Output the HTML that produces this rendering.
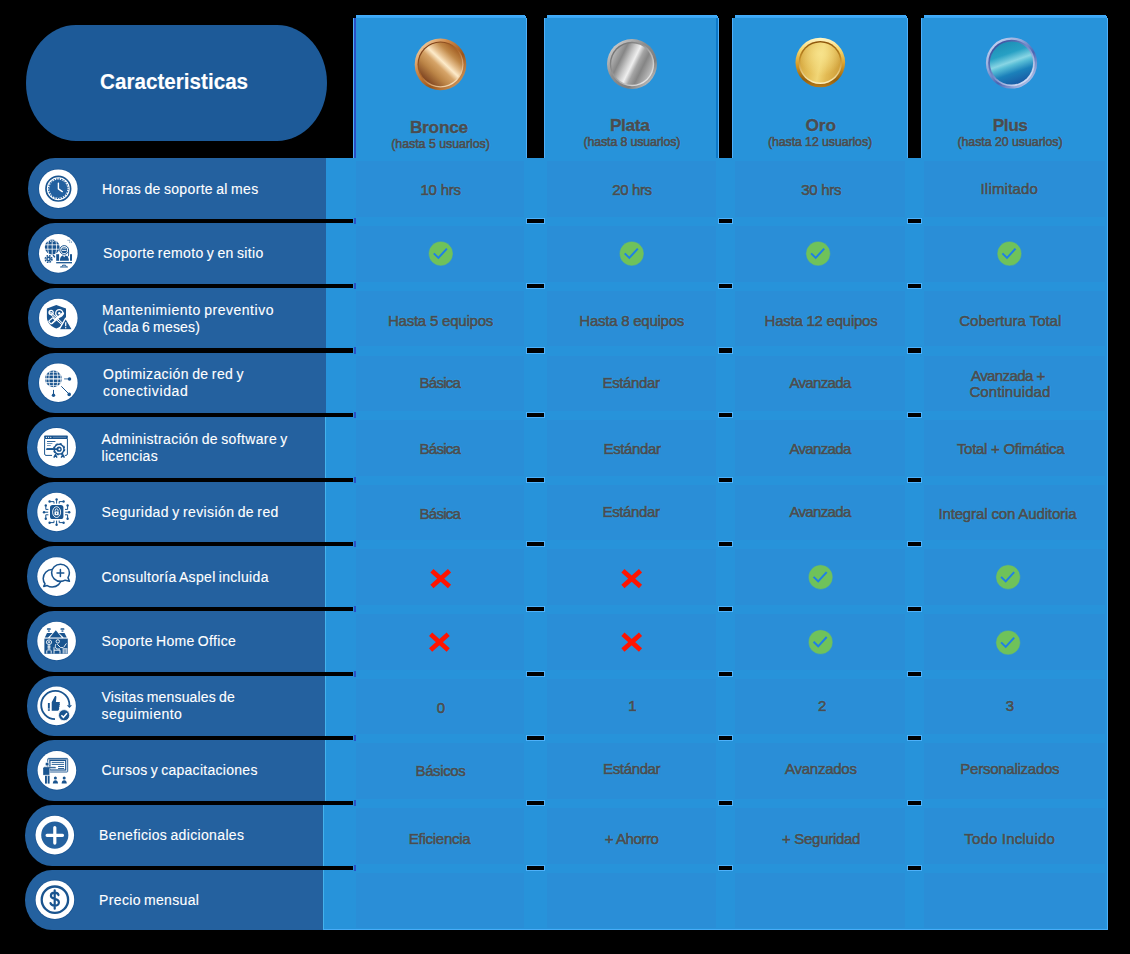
<!DOCTYPE html>
<html><head><meta charset="utf-8"><title>Planes</title>
<style>
html,body{margin:0;padding:0;background:#000;}
body{width:1130px;height:954px;position:relative;overflow:hidden;font-family:"Liberation Sans",sans-serif;}
.a{position:absolute;}
.t{position:absolute;white-space:nowrap;line-height:1;color:#4a4c50;-webkit-text-stroke:0.7px #4a4c50;text-shadow:0 0 1px #38b8ff,0 0 1px #38b8ff,0 0 1.5px #38b8ff;}
.l{position:absolute;white-space:nowrap;line-height:1;color:#fff;-webkit-text-stroke:0.12px #fff;}
.ic{position:absolute;border-radius:50%;background:#fff;box-shadow:0 0 0 1px #1c5896;}
svg{position:absolute;overflow:visible;}
</style></head><body>

<div class="a" style="left:26px;top:25px;width:301px;height:116px;border-radius:50px / 58px;background:#1d5a98"></div>
<div class="a" style="left:353px;top:18px;width:174px;height:912px;background:#2793da"></div>
<div class="a" style="left:356px;top:15px;width:169px;height:3px;background:linear-gradient(#45aefb,#38a5f3)"></div>
<div class="a" style="left:525px;top:16px;width:1px;height:2px;background:#45aefb"></div>
<div class="a" style="left:353px;top:18px;width:1px;height:140px;background:#4fb0fa"></div>
<div class="a" style="left:526px;top:18px;width:1px;height:140px;background:#4fb0fa"></div>
<div class="a" style="left:544px;top:18px;width:175px;height:912px;background:#2793da"></div>
<div class="a" style="left:547px;top:15px;width:170px;height:3px;background:linear-gradient(#45aefb,#38a5f3)"></div>
<div class="a" style="left:717px;top:16px;width:1px;height:2px;background:#45aefb"></div>
<div class="a" style="left:544px;top:18px;width:1px;height:140px;background:#4fb0fa"></div>
<div class="a" style="left:718px;top:18px;width:1px;height:140px;background:#4fb0fa"></div>
<div class="a" style="left:732px;top:18px;width:176px;height:912px;background:#2793da"></div>
<div class="a" style="left:735px;top:15px;width:171px;height:3px;background:linear-gradient(#45aefb,#38a5f3)"></div>
<div class="a" style="left:906px;top:16px;width:1px;height:2px;background:#45aefb"></div>
<div class="a" style="left:732px;top:18px;width:1px;height:140px;background:#4fb0fa"></div>
<div class="a" style="left:907px;top:18px;width:1px;height:140px;background:#4fb0fa"></div>
<div class="a" style="left:921px;top:18px;width:187px;height:912px;background:#2793da"></div>
<div class="a" style="left:924px;top:15px;width:182px;height:3px;background:linear-gradient(#45aefb,#38a5f3)"></div>
<div class="a" style="left:1106px;top:16px;width:1px;height:2px;background:#45aefb"></div>
<div class="a" style="left:921px;top:18px;width:1px;height:140px;background:#4fb0fa"></div>
<div class="a" style="left:1107px;top:18px;width:1px;height:140px;background:#4fb0fa"></div>
<div class="a" style="left:354px;top:18px;width:2px;height:140px;background:#2a4fc6"></div>
<div class="a" style="left:716px;top:18px;width:2px;height:140px;background:#0c78c8"></div>
<div class="a" style="left:326px;top:158px;width:782px;height:61px;background:#2793da"></div>
<div class="a" style="left:28px;top:158px;width:298px;height:61px;background:#24619f;border-radius:27px 0 0 27px / 30.5px 0 0 30.5px"></div>
<div class="a" style="left:356px;top:161px;width:168px;height:56px;background:#2a8ed7"></div>
<div class="a" style="left:547px;top:161px;width:169px;height:56px;background:#2a8ed7"></div>
<div class="a" style="left:735px;top:161px;width:170px;height:56px;background:#2a8ed7"></div>
<div class="a" style="left:924px;top:161px;width:181px;height:56px;background:#2a8ed7"></div>
<div class="a" style="left:326px;top:223px;width:782px;height:61px;background:#2793da"></div>
<div class="a" style="left:28px;top:223px;width:298px;height:61px;background:#24619f;border-radius:27px 0 0 27px / 30.5px 0 0 30.5px"></div>
<div class="a" style="left:356px;top:226px;width:168px;height:56px;background:#2a8ed7"></div>
<div class="a" style="left:547px;top:226px;width:169px;height:56px;background:#2a8ed7"></div>
<div class="a" style="left:735px;top:226px;width:170px;height:56px;background:#2a8ed7"></div>
<div class="a" style="left:924px;top:226px;width:181px;height:56px;background:#2a8ed7"></div>
<div class="a" style="left:326px;top:288px;width:782px;height:60px;background:#2793da"></div>
<div class="a" style="left:28px;top:288px;width:298px;height:60px;background:#24619f;border-radius:27px 0 0 27px / 30.0px 0 0 30.0px"></div>
<div class="a" style="left:356px;top:291px;width:168px;height:55px;background:#2a8ed7"></div>
<div class="a" style="left:547px;top:291px;width:169px;height:55px;background:#2a8ed7"></div>
<div class="a" style="left:735px;top:291px;width:170px;height:55px;background:#2a8ed7"></div>
<div class="a" style="left:924px;top:291px;width:181px;height:55px;background:#2a8ed7"></div>
<div class="a" style="left:326px;top:353px;width:782px;height:60px;background:#2793da"></div>
<div class="a" style="left:28px;top:353px;width:298px;height:60px;background:#24619f;border-radius:27px 0 0 27px / 30.0px 0 0 30.0px"></div>
<div class="a" style="left:356px;top:356px;width:168px;height:55px;background:#2a8ed7"></div>
<div class="a" style="left:547px;top:356px;width:169px;height:55px;background:#2a8ed7"></div>
<div class="a" style="left:735px;top:356px;width:170px;height:55px;background:#2a8ed7"></div>
<div class="a" style="left:924px;top:356px;width:181px;height:55px;background:#2a8ed7"></div>
<div class="a" style="left:325px;top:417px;width:783px;height:61px;background:#2793da"></div>
<div class="a" style="left:27px;top:417px;width:298px;height:61px;background:#24619f;border-radius:27px 0 0 27px / 30.5px 0 0 30.5px"></div>
<div class="a" style="left:356px;top:420px;width:168px;height:56px;background:#2a8ed7"></div>
<div class="a" style="left:547px;top:420px;width:169px;height:56px;background:#2a8ed7"></div>
<div class="a" style="left:735px;top:420px;width:170px;height:56px;background:#2a8ed7"></div>
<div class="a" style="left:924px;top:420px;width:181px;height:56px;background:#2a8ed7"></div>
<div class="a" style="left:325px;top:482px;width:783px;height:60px;background:#2793da"></div>
<div class="a" style="left:27px;top:482px;width:298px;height:60px;background:#24619f;border-radius:27px 0 0 27px / 30.0px 0 0 30.0px"></div>
<div class="a" style="left:356px;top:485px;width:168px;height:55px;background:#2a8ed7"></div>
<div class="a" style="left:547px;top:485px;width:169px;height:55px;background:#2a8ed7"></div>
<div class="a" style="left:735px;top:485px;width:170px;height:55px;background:#2a8ed7"></div>
<div class="a" style="left:924px;top:485px;width:181px;height:55px;background:#2a8ed7"></div>
<div class="a" style="left:325px;top:546px;width:783px;height:61px;background:#2793da"></div>
<div class="a" style="left:27px;top:546px;width:298px;height:61px;background:#24619f;border-radius:27px 0 0 27px / 30.5px 0 0 30.5px"></div>
<div class="a" style="left:356px;top:549px;width:168px;height:56px;background:#2a8ed7"></div>
<div class="a" style="left:547px;top:549px;width:169px;height:56px;background:#2a8ed7"></div>
<div class="a" style="left:735px;top:549px;width:170px;height:56px;background:#2a8ed7"></div>
<div class="a" style="left:924px;top:549px;width:181px;height:56px;background:#2a8ed7"></div>
<div class="a" style="left:325px;top:611px;width:783px;height:61px;background:#2793da"></div>
<div class="a" style="left:27px;top:611px;width:298px;height:61px;background:#24619f;border-radius:27px 0 0 27px / 30.5px 0 0 30.5px"></div>
<div class="a" style="left:356px;top:614px;width:168px;height:56px;background:#2a8ed7"></div>
<div class="a" style="left:547px;top:614px;width:169px;height:56px;background:#2a8ed7"></div>
<div class="a" style="left:735px;top:614px;width:170px;height:56px;background:#2a8ed7"></div>
<div class="a" style="left:924px;top:614px;width:181px;height:56px;background:#2a8ed7"></div>
<div class="a" style="left:325px;top:676px;width:783px;height:60px;background:#2793da"></div>
<div class="a" style="left:27px;top:676px;width:298px;height:60px;background:#24619f;border-radius:27px 0 0 27px / 30.0px 0 0 30.0px"></div>
<div class="a" style="left:356px;top:679px;width:168px;height:55px;background:#2a8ed7"></div>
<div class="a" style="left:547px;top:679px;width:169px;height:55px;background:#2a8ed7"></div>
<div class="a" style="left:735px;top:679px;width:170px;height:55px;background:#2a8ed7"></div>
<div class="a" style="left:924px;top:679px;width:181px;height:55px;background:#2a8ed7"></div>
<div class="a" style="left:325px;top:740px;width:783px;height:61px;background:#2793da"></div>
<div class="a" style="left:27px;top:740px;width:298px;height:61px;background:#24619f;border-radius:27px 0 0 27px / 30.5px 0 0 30.5px"></div>
<div class="a" style="left:356px;top:743px;width:168px;height:56px;background:#2a8ed7"></div>
<div class="a" style="left:547px;top:743px;width:169px;height:56px;background:#2a8ed7"></div>
<div class="a" style="left:735px;top:743px;width:170px;height:56px;background:#2a8ed7"></div>
<div class="a" style="left:924px;top:743px;width:181px;height:56px;background:#2a8ed7"></div>
<div class="a" style="left:323px;top:805px;width:785px;height:61px;background:#2793da"></div>
<div class="a" style="left:25px;top:805px;width:298px;height:61px;background:#24619f;border-radius:27px 0 0 27px / 30.5px 0 0 30.5px"></div>
<div class="a" style="left:356px;top:808px;width:168px;height:56px;background:#2a8ed7"></div>
<div class="a" style="left:547px;top:808px;width:169px;height:56px;background:#2a8ed7"></div>
<div class="a" style="left:735px;top:808px;width:170px;height:56px;background:#2a8ed7"></div>
<div class="a" style="left:924px;top:808px;width:181px;height:56px;background:#2a8ed7"></div>
<div class="a" style="left:323px;top:870px;width:785px;height:60px;background:#2793da"></div>
<div class="a" style="left:25px;top:870px;width:298px;height:60px;background:#24619f;border-radius:27px 0 0 27px / 30.0px 0 0 30.0px"></div>
<div class="a" style="left:356px;top:873px;width:168px;height:55px;background:#2a8ed7"></div>
<div class="a" style="left:547px;top:873px;width:169px;height:55px;background:#2a8ed7"></div>
<div class="a" style="left:735px;top:873px;width:170px;height:55px;background:#2a8ed7"></div>
<div class="a" style="left:924px;top:873px;width:181px;height:55px;background:#2a8ed7"></div>
<div class="a" style="left:325px;top:417px;width:1px;height:61px;background:#43b2ec"></div>
<div class="a" style="left:325px;top:482px;width:1px;height:60px;background:#43b2ec"></div>
<div class="a" style="left:325px;top:546px;width:1px;height:61px;background:#43b2ec"></div>
<div class="a" style="left:325px;top:611px;width:1px;height:61px;background:#43b2ec"></div>
<div class="a" style="left:325px;top:676px;width:1px;height:60px;background:#43b2ec"></div>
<div class="a" style="left:325px;top:740px;width:1px;height:61px;background:#43b2ec"></div>
<div class="a" style="left:323px;top:805px;width:1px;height:61px;background:#43b2ec"></div>
<div class="a" style="left:323px;top:870px;width:1px;height:60px;background:#43b2ec"></div>
<div class="a" style="left:1107px;top:18px;width:1px;height:912px;background:#4fb0fa"></div>
<div class="a" style="left:323px;top:929px;width:785px;height:1px;background:#49acf6"></div>
<div class="a" style="left:354px;top:218px;width:2px;height:6px;background:#2a52c8"></div>
<div class="a" style="left:354px;top:283px;width:2px;height:6px;background:#2a52c8"></div>
<div class="a" style="left:354px;top:347px;width:2px;height:7px;background:#2a52c8"></div>
<div class="a" style="left:354px;top:412px;width:2px;height:6px;background:#2a52c8"></div>
<div class="a" style="left:354px;top:477px;width:2px;height:6px;background:#2a52c8"></div>
<div class="a" style="left:354px;top:541px;width:2px;height:6px;background:#2a52c8"></div>
<div class="a" style="left:354px;top:606px;width:2px;height:6px;background:#2a52c8"></div>
<div class="a" style="left:354px;top:671px;width:2px;height:6px;background:#2a52c8"></div>
<div class="a" style="left:354px;top:735px;width:2px;height:6px;background:#2a52c8"></div>
<div class="a" style="left:354px;top:800px;width:2px;height:6px;background:#2a52c8"></div>
<div class="a" style="left:354px;top:865px;width:2px;height:6px;background:#2a52c8"></div>
<div class="a" style="left:527px;top:219px;width:17px;height:4px;background:#000;box-shadow:0 0 0 1px #4db1fa"></div>
<div class="a" style="left:719px;top:219px;width:13px;height:4px;background:#000;box-shadow:0 0 0 1px #4db1fa"></div>
<div class="a" style="left:908px;top:219px;width:13px;height:4px;background:#000;box-shadow:0 0 0 1px #4db1fa"></div>
<div class="a" style="left:527px;top:284px;width:17px;height:4px;background:#000;box-shadow:0 0 0 1px #4db1fa"></div>
<div class="a" style="left:719px;top:284px;width:13px;height:4px;background:#000;box-shadow:0 0 0 1px #4db1fa"></div>
<div class="a" style="left:908px;top:284px;width:13px;height:4px;background:#000;box-shadow:0 0 0 1px #4db1fa"></div>
<div class="a" style="left:527px;top:348px;width:17px;height:5px;background:#000;box-shadow:0 0 0 1px #4db1fa"></div>
<div class="a" style="left:719px;top:348px;width:13px;height:5px;background:#000;box-shadow:0 0 0 1px #4db1fa"></div>
<div class="a" style="left:908px;top:348px;width:13px;height:5px;background:#000;box-shadow:0 0 0 1px #4db1fa"></div>
<div class="a" style="left:527px;top:413px;width:17px;height:4px;background:#000;box-shadow:0 0 0 1px #4db1fa"></div>
<div class="a" style="left:719px;top:413px;width:13px;height:4px;background:#000;box-shadow:0 0 0 1px #4db1fa"></div>
<div class="a" style="left:908px;top:413px;width:13px;height:4px;background:#000;box-shadow:0 0 0 1px #4db1fa"></div>
<div class="a" style="left:527px;top:478px;width:17px;height:4px;background:#000;box-shadow:0 0 0 1px #4db1fa"></div>
<div class="a" style="left:719px;top:478px;width:13px;height:4px;background:#000;box-shadow:0 0 0 1px #4db1fa"></div>
<div class="a" style="left:908px;top:478px;width:13px;height:4px;background:#000;box-shadow:0 0 0 1px #4db1fa"></div>
<div class="a" style="left:527px;top:542px;width:17px;height:4px;background:#000;box-shadow:0 0 0 1px #4db1fa"></div>
<div class="a" style="left:719px;top:542px;width:13px;height:4px;background:#000;box-shadow:0 0 0 1px #4db1fa"></div>
<div class="a" style="left:908px;top:542px;width:13px;height:4px;background:#000;box-shadow:0 0 0 1px #4db1fa"></div>
<div class="a" style="left:527px;top:607px;width:17px;height:4px;background:#000;box-shadow:0 0 0 1px #4db1fa"></div>
<div class="a" style="left:719px;top:607px;width:13px;height:4px;background:#000;box-shadow:0 0 0 1px #4db1fa"></div>
<div class="a" style="left:908px;top:607px;width:13px;height:4px;background:#000;box-shadow:0 0 0 1px #4db1fa"></div>
<div class="a" style="left:527px;top:672px;width:17px;height:4px;background:#000;box-shadow:0 0 0 1px #4db1fa"></div>
<div class="a" style="left:719px;top:672px;width:13px;height:4px;background:#000;box-shadow:0 0 0 1px #4db1fa"></div>
<div class="a" style="left:908px;top:672px;width:13px;height:4px;background:#000;box-shadow:0 0 0 1px #4db1fa"></div>
<div class="a" style="left:527px;top:736px;width:17px;height:4px;background:#000;box-shadow:0 0 0 1px #4db1fa"></div>
<div class="a" style="left:719px;top:736px;width:13px;height:4px;background:#000;box-shadow:0 0 0 1px #4db1fa"></div>
<div class="a" style="left:908px;top:736px;width:13px;height:4px;background:#000;box-shadow:0 0 0 1px #4db1fa"></div>
<div class="a" style="left:527px;top:801px;width:17px;height:4px;background:#000;box-shadow:0 0 0 1px #4db1fa"></div>
<div class="a" style="left:719px;top:801px;width:13px;height:4px;background:#000;box-shadow:0 0 0 1px #4db1fa"></div>
<div class="a" style="left:908px;top:801px;width:13px;height:4px;background:#000;box-shadow:0 0 0 1px #4db1fa"></div>
<div class="a" style="left:527px;top:866px;width:17px;height:4px;background:#000;box-shadow:0 0 0 1px #4db1fa"></div>
<div class="a" style="left:719px;top:866px;width:13px;height:4px;background:#000;box-shadow:0 0 0 1px #4db1fa"></div>
<div class="a" style="left:908px;top:866px;width:13px;height:4px;background:#000;box-shadow:0 0 0 1px #4db1fa"></div>
<div class="l" style="left:100.30px;top:71.40px;font-size:21.6px;transform-origin:0 0;transform:scaleX(0.9564);font-weight:bold;">Caracteristicas</div>
<div class="t" style="left:409.90px;top:119.20px;font-size:17.3px;letter-spacing:-0.246px;font-weight:bold;-webkit-text-stroke:0.5px #4a4c50;">Bronce</div>
<div class="t" style="left:391.20px;top:138.00px;font-size:12.4px;letter-spacing:-0.026px;-webkit-text-stroke:0.7px #4a4c50;">(hasta 5 usuarios)</div>
<div class="t" style="left:609.90px;top:117.30px;font-size:17.3px;letter-spacing:-0.348px;font-weight:bold;-webkit-text-stroke:0.5px #4a4c50;">Plata</div>
<div class="t" style="left:583.50px;top:136.20px;font-size:12.4px;letter-spacing:-0.132px;-webkit-text-stroke:0.7px #4a4c50;">(hasta 8 usuarios)</div>
<div class="t" style="left:805.40px;top:117.30px;font-size:17.3px;letter-spacing:0.016px;font-weight:bold;-webkit-text-stroke:0.5px #4a4c50;">Oro</div>
<div class="t" style="left:768.00px;top:136.20px;font-size:12.4px;letter-spacing:-0.108px;-webkit-text-stroke:0.7px #4a4c50;">(hasta 12 usuarios)</div>
<div class="t" style="left:992.70px;top:117.30px;font-size:17.3px;letter-spacing:-0.428px;font-weight:bold;-webkit-text-stroke:0.5px #4a4c50;">Plus</div>
<div class="t" style="left:957.40px;top:136.20px;font-size:12.4px;letter-spacing:-0.052px;-webkit-text-stroke:0.7px #4a4c50;">(hasta 20 usuarios)</div>
<div class="t" style="left:420.50px;top:182.30px;font-size:15px;letter-spacing:-0.238px;">10 hrs</div>
<div class="t" style="left:612.20px;top:182.30px;font-size:15px;letter-spacing:-0.358px;">20 hrs</div>
<div class="t" style="left:801.20px;top:182.30px;font-size:15px;letter-spacing:-0.298px;">30 hrs</div>
<div class="t" style="left:980.50px;top:180.60px;font-size:15px;letter-spacing:0.198px;">Ilimitado</div>
<div class="t" style="left:387.90px;top:312.80px;font-size:15px;letter-spacing:-0.215px;">Hasta 5 equipos</div>
<div class="t" style="left:579.30px;top:312.80px;font-size:15px;letter-spacing:-0.243px;">Hasta 8 equipos</div>
<div class="t" style="left:764.60px;top:312.80px;font-size:15px;letter-spacing:-0.243px;">Hasta 12 equipos</div>
<div class="t" style="left:959.30px;top:312.80px;font-size:15px;letter-spacing:-0.023px;">Cobertura Total</div>
<div class="t" style="left:419.50px;top:375.00px;font-size:15px;letter-spacing:-0.716px;">Básica</div>
<div class="t" style="left:602.50px;top:375.00px;font-size:15px;letter-spacing:-0.363px;">Estándar</div>
<div class="t" style="left:789.40px;top:375.00px;font-size:15px;letter-spacing:-0.643px;">Avanzada</div>
<div class="t" style="left:971.00px;top:368.00px;font-size:15px;letter-spacing:-0.579px;">Avanzada +</div>
<div class="t" style="left:969.40px;top:384.40px;font-size:15px;letter-spacing:0.088px;">Continuidad</div>
<div class="t" style="left:419.50px;top:441.30px;font-size:15px;letter-spacing:-0.716px;">Básica</div>
<div class="t" style="left:603.50px;top:441.30px;font-size:15px;letter-spacing:-0.363px;">Estándar</div>
<div class="t" style="left:789.40px;top:441.30px;font-size:15px;letter-spacing:-0.643px;">Avanzada</div>
<div class="t" style="left:956.90px;top:441.30px;font-size:15px;letter-spacing:-0.280px;">Total + Ofimática</div>
<div class="t" style="left:419.50px;top:505.90px;font-size:15px;letter-spacing:-0.716px;">Básica</div>
<div class="t" style="left:602.50px;top:503.60px;font-size:15px;letter-spacing:-0.363px;">Estándar</div>
<div class="t" style="left:789.40px;top:503.80px;font-size:15px;letter-spacing:-0.643px;">Avanzada</div>
<div class="t" style="left:938.40px;top:505.90px;font-size:15px;letter-spacing:-0.134px;">Integral con Auditoria</div>
<div class="t" style="left:436.70px;top:699.80px;font-size:15px;letter-spacing:0.000px;">0</div>
<div class="t" style="left:628.20px;top:698.00px;font-size:15px;letter-spacing:-1.200px;">1</div>
<div class="t" style="left:818.00px;top:698.00px;font-size:15px;letter-spacing:0.100px;">2</div>
<div class="t" style="left:1005.70px;top:698.00px;font-size:15px;letter-spacing:0.300px;">3</div>
<div class="t" style="left:415.50px;top:762.80px;font-size:15px;letter-spacing:-0.370px;">Básicos</div>
<div class="t" style="left:603.10px;top:760.80px;font-size:15px;letter-spacing:-0.363px;">Estándar</div>
<div class="t" style="left:785.00px;top:760.80px;font-size:15px;letter-spacing:-0.256px;">Avanzados</div>
<div class="t" style="left:960.30px;top:760.80px;font-size:15px;letter-spacing:-0.251px;">Personalizados</div>
<div class="t" style="left:408.80px;top:830.80px;font-size:15px;letter-spacing:-0.262px;">Eficiencia</div>
<div class="t" style="left:604.80px;top:830.80px;font-size:15px;letter-spacing:-0.444px;">+ Ahorro</div>
<div class="t" style="left:782.00px;top:830.80px;font-size:15px;letter-spacing:-0.297px;">+ Seguridad</div>
<div class="t" style="left:964.30px;top:830.80px;font-size:15px;letter-spacing:0.171px;">Todo Incluido</div>
<div class="l" style="left:102.10px;top:181.80px;font-size:14px;letter-spacing:0.345px;word-spacing:-1.0px;">Horas de soporte al mes</div>
<div class="l" style="left:103.10px;top:245.90px;font-size:14px;letter-spacing:0.356px;word-spacing:-1.0px;">Soporte remoto y en sitio</div>
<div class="l" style="left:102.10px;top:302.70px;font-size:14px;letter-spacing:0.525px;word-spacing:-1.0px;">Mantenimiento preventivo</div>
<div class="l" style="left:103.10px;top:319.60px;font-size:14px;letter-spacing:0.175px;word-spacing:-1.0px;">(cada 6 meses)</div>
<div class="l" style="left:103.10px;top:367.10px;font-size:14px;letter-spacing:0.405px;word-spacing:-1.0px;">Optimización de red y</div>
<div class="l" style="left:103.10px;top:384.00px;font-size:14px;letter-spacing:0.624px;word-spacing:-1.0px;">conectividad</div>
<div class="l" style="left:101.50px;top:431.90px;font-size:14px;letter-spacing:0.364px;word-spacing:-1.0px;">Administración de software y</div>
<div class="l" style="left:101.50px;top:448.60px;font-size:14px;letter-spacing:0.314px;word-spacing:-1.0px;">licencias</div>
<div class="l" style="left:101.50px;top:504.60px;font-size:14px;letter-spacing:0.402px;word-spacing:-1.0px;">Seguridad y revisión de red</div>
<div class="l" style="left:101.50px;top:569.50px;font-size:14px;letter-spacing:0.313px;word-spacing:-1.0px;">Consultoría Aspel incluida</div>
<div class="l" style="left:101.50px;top:634.20px;font-size:14px;letter-spacing:0.323px;word-spacing:-1.0px;">Soporte Home Office</div>
<div class="l" style="left:101.50px;top:690.30px;font-size:14px;letter-spacing:0.171px;word-spacing:-1.0px;">Visitas mensuales de</div>
<div class="l" style="left:101.50px;top:707.20px;font-size:14px;letter-spacing:0.490px;word-spacing:-1.0px;">seguimiento</div>
<div class="l" style="left:101.50px;top:763.20px;font-size:14px;letter-spacing:0.280px;word-spacing:-1.0px;">Cursos y capacitaciones</div>
<div class="l" style="left:99.10px;top:827.80px;font-size:14px;letter-spacing:0.351px;word-spacing:-1.0px;">Beneficios adicionales</div>
<div class="l" style="left:99.10px;top:892.60px;font-size:14px;letter-spacing:0.332px;word-spacing:-1.0px;">Precio mensual</div>
<svg style="left:427px;top:240px" width="28" height="28" viewBox="-13.80 -13.60 28 28"><circle r="12.3" fill="#6fc25a" stroke="#2384ea" stroke-opacity="0.55" stroke-width="0.9"/><path d="M-7 -0.2 L-2.4 4.3 L6.1 -5" fill="none" stroke="#1f7fe6" stroke-width="2"/></svg>
<svg style="left:618px;top:240px" width="28" height="28" viewBox="-13.70 -13.60 28 28"><circle r="12.3" fill="#6fc25a" stroke="#2384ea" stroke-opacity="0.55" stroke-width="0.9"/><path d="M-7 -0.2 L-2.4 4.3 L6.1 -5" fill="none" stroke="#1f7fe6" stroke-width="2"/></svg>
<svg style="left:804px;top:240px" width="28" height="28" viewBox="-14.10 -13.60 28 28"><circle r="12.3" fill="#6fc25a" stroke="#2384ea" stroke-opacity="0.55" stroke-width="0.9"/><path d="M-7 -0.2 L-2.4 4.3 L6.1 -5" fill="none" stroke="#1f7fe6" stroke-width="2"/></svg>
<svg style="left:995px;top:240px" width="28" height="28" viewBox="-14.40 -13.60 28 28"><circle r="12.3" fill="#6fc25a" stroke="#2384ea" stroke-opacity="0.55" stroke-width="0.9"/><path d="M-7 -0.2 L-2.4 4.3 L6.1 -5" fill="none" stroke="#1f7fe6" stroke-width="2"/></svg>
<svg style="left:427px;top:565px" width="28" height="28" viewBox="-13.70 -13.55 28 28"><path d="M-8.8 -7.9 L8.8 7.9 M8.8 -7.9 L-8.8 7.9" fill="none" stroke="#ff1400" stroke-width="4.7"/></svg>
<svg style="left:618px;top:565px" width="28" height="28" viewBox="-13.70 -13.55 28 28"><path d="M-8.8 -7.9 L8.8 7.9 M8.8 -7.9 L-8.8 7.9" fill="none" stroke="#ff1400" stroke-width="4.7"/></svg>
<svg style="left:807px;top:563px" width="28" height="28" viewBox="-13.60 -14.10 28 28"><circle r="12.3" fill="#6fc25a" stroke="#2384ea" stroke-opacity="0.55" stroke-width="0.9"/><path d="M-7 -0.2 L-2.4 4.3 L6.1 -5" fill="none" stroke="#1f7fe6" stroke-width="2"/></svg>
<svg style="left:994px;top:563px" width="28" height="28" viewBox="-14.10 -14.10 28 28"><circle r="12.3" fill="#6fc25a" stroke="#2384ea" stroke-opacity="0.55" stroke-width="0.9"/><path d="M-7 -0.2 L-2.4 4.3 L6.1 -5" fill="none" stroke="#1f7fe6" stroke-width="2"/></svg>
<svg style="left:425px;top:628px" width="28" height="28" viewBox="-14.40 -14.20 28 28"><path d="M-8.8 -7.9 L8.8 7.9 M8.8 -7.9 L-8.8 7.9" fill="none" stroke="#ff1400" stroke-width="4.7"/></svg>
<svg style="left:618px;top:628px" width="28" height="28" viewBox="-13.70 -14.20 28 28"><path d="M-8.8 -7.9 L8.8 7.9 M8.8 -7.9 L-8.8 7.9" fill="none" stroke="#ff1400" stroke-width="4.7"/></svg>
<svg style="left:807px;top:628px" width="28" height="28" viewBox="-13.60 -14.00 28 28"><circle r="12.3" fill="#6fc25a" stroke="#2384ea" stroke-opacity="0.55" stroke-width="0.9"/><path d="M-7 -0.2 L-2.4 4.3 L6.1 -5" fill="none" stroke="#1f7fe6" stroke-width="2"/></svg>
<svg style="left:994px;top:629px" width="28" height="28" viewBox="-14.10 -13.60 28 28"><circle r="12.3" fill="#6fc25a" stroke="#2384ea" stroke-opacity="0.55" stroke-width="0.9"/><path d="M-7 -0.2 L-2.4 4.3 L6.1 -5" fill="none" stroke="#1f7fe6" stroke-width="2"/></svg>
<svg style="left:410px;top:34px" width="60" height="60" viewBox="-30.50 -30.40 60 60"><defs><linearGradient id="rim0" x1="0.1" y1="0.1" x2="0.9" y2="0.9"><stop offset="0" stop-color="#f2cfa2"/><stop offset="0.3" stop-color="#cf8a4a"/><stop offset="0.65" stop-color="#9c5519"/><stop offset="1" stop-color="#d39a5e"/></linearGradient><linearGradient id="face0" x1="0.12" y1="0.9" x2="0.88" y2="0.1"><stop offset="0" stop-color="#74391a"/><stop offset="0.28" stop-color="#bb8446"/><stop offset="0.45" stop-color="#d6a468"/><stop offset="0.57" stop-color="#fdebca"/><stop offset="0.66" stop-color="#e6c08f"/><stop offset="0.8" stop-color="#c08848"/><stop offset="1" stop-color="#9c551b"/></linearGradient><linearGradient id="r20" x1="0.2" y1="0.1" x2="0.8" y2="0.9"><stop offset="0" stop-color="#7c3f18"/><stop offset="0.5" stop-color="#b06c30"/><stop offset="1" stop-color="#f7dcb4"/></linearGradient></defs><circle r="25.8" fill="url(#rim0)"/><circle r="23.0" fill="url(#r20)"/><circle r="21.8" fill="url(#face0)"/></svg>
<svg style="left:602px;top:34px" width="60" height="60" viewBox="-30.00 -30.00 60 60"><defs><linearGradient id="rim1" x1="0.1" y1="0.1" x2="0.9" y2="0.9"><stop offset="0" stop-color="#cfcfcf"/><stop offset="0.4" stop-color="#8e8e8e"/><stop offset="0.75" stop-color="#7e7e7e"/><stop offset="1" stop-color="#c6c6c6"/></linearGradient><linearGradient id="face1" x1="0.05" y1="0.28" x2="0.95" y2="0.72"><stop offset="0" stop-color="#b4b4b4"/><stop offset="0.2" stop-color="#868686"/><stop offset="0.36" stop-color="#c2c2c2"/><stop offset="0.5" stop-color="#efefef"/><stop offset="0.62" stop-color="#a4a4a4"/><stop offset="0.76" stop-color="#858585"/><stop offset="1" stop-color="#bcbcbc"/></linearGradient><linearGradient id="r21" x1="0.15" y1="0.15" x2="0.85" y2="0.85"><stop offset="0" stop-color="#747474"/><stop offset="0.5" stop-color="#a2a2a2"/><stop offset="1" stop-color="#e4e4e4"/></linearGradient></defs><circle r="25.0" fill="url(#rim1)"/><circle r="22.2" fill="url(#r21)"/><circle r="20.8" fill="url(#face1)"/></svg>
<svg style="left:790px;top:32px" width="60" height="60" viewBox="-30.30 -30.50 60 60"><defs><linearGradient id="rim2" x1="0.5" y1="0" x2="0.5" y2="1"><stop offset="0" stop-color="#fff6c8"/><stop offset="0.25" stop-color="#f6d66c"/><stop offset="0.55" stop-color="#d59a26"/><stop offset="0.85" stop-color="#96600c"/><stop offset="1" stop-color="#b87c18"/></linearGradient><linearGradient id="face2" x1="0" y1="0.4" x2="1" y2="0.6"><stop offset="0" stop-color="#d6a840"/><stop offset="0.3" stop-color="#e6c15a"/><stop offset="0.5" stop-color="#f1d676"/><stop offset="0.7" stop-color="#e3bb54"/><stop offset="1" stop-color="#cf9f3a"/></linearGradient><linearGradient id="r22" x1="0.5" y1="0" x2="0.5" y2="1"><stop offset="0" stop-color="#8a520a"/><stop offset="0.4" stop-color="#c38e26"/><stop offset="1" stop-color="#fff4c0"/></linearGradient></defs><circle r="24.8" fill="url(#rim2)"/><circle r="21.6" fill="url(#r22)"/><circle r="20.0" fill="url(#face2)"/></svg>
<svg style="left:800px;top:42px" width="40" height="40" viewBox="-20.30 -20.50 40 40"><defs><radialGradient id="gh" cx="0.5" cy="0.28" r="0.55"><stop offset="0" stop-color="#f7e38c" stop-opacity="0.95"/><stop offset="1" stop-color="#f7e38c" stop-opacity="0"/></radialGradient></defs><circle r="20" fill="url(#gh)"/></svg>
<svg style="left:982px;top:33px" width="60" height="60" viewBox="-29.50 -30.00 60 60"><defs><linearGradient id="rim3" x1="0.15" y1="0.1" x2="0.85" y2="0.9"><stop offset="0" stop-color="#c2d0f0"/><stop offset="0.3" stop-color="#93a8da"/><stop offset="0.62" stop-color="#4a64b2"/><stop offset="1" stop-color="#b4c4ea"/></linearGradient><linearGradient id="face3" x1="0.33" y1="0.02" x2="0.67" y2="0.98"><stop offset="0" stop-color="#1d8fb6"/><stop offset="0.27" stop-color="#27a0c4"/><stop offset="0.47" stop-color="#88d5e4"/><stop offset="0.55" stop-color="#58bdd6"/><stop offset="0.73" stop-color="#1b80ba"/><stop offset="1" stop-color="#195aa4"/></linearGradient><linearGradient id="r23" x1="0.15" y1="0.1" x2="0.85" y2="0.9"><stop offset="0" stop-color="#38509e"/><stop offset="0.5" stop-color="#7890cc"/><stop offset="1" stop-color="#dae4f8"/></linearGradient></defs><circle r="25.6" fill="url(#rim3)"/><circle r="23.3" fill="url(#r23)"/><circle r="21.6" fill="url(#face3)"/></svg>
<svg style="left:37px;top:168px" width="42" height="42" viewBox="-21.30 -20.70 42 42"><circle r="20.1" fill="#1b5694"/><circle r="19.3" fill="#fff"/><circle r="12.3" fill="none" stroke="#19548f" stroke-width="1.7"/><circle r="9.2" fill="#22609f"/><circle r="9.7" fill="none" stroke="#22609f" stroke-width="1.3" stroke-dasharray="1.45 1.09"/><path d="M0.1 -5.6 V0.2 L4 2.9" fill="none" stroke="#fff" stroke-width="1.4" stroke-linecap="round" stroke-linejoin="round"/></svg>
<svg style="left:37px;top:232px" width="42" height="42" viewBox="-21.30 -21.40 42 42"><circle r="20.1" fill="#1b5694"/><circle r="19.3" fill="#fff"/><circle cx="-6.1" cy="-6.4" r="7.4" fill="#19548f"/><path d="M-13.6 -8.6 H1.4 M-13.6 -4.2 H1.4" stroke="#fff" stroke-width="0.8" fill="none"/><path d="M-6.1 -13.9 V1.1 M-9.6 -13.2 C-10.8 -9 -10.8 -3.8 -9.6 0.4 M-2.6 -13.2 C-1.4 -9 -1.4 -3.8 -2.6 0.4" stroke="#fff" stroke-width="0.8" fill="none"/><path d="M-11.6 -11.4 L-8.6 -13.6 L-7.4 -11.4 M-4.8 -11.4 L-3.6 -13.6 L-0.6 -11.4" stroke="#fff" stroke-width="0.8" fill="none"/><circle cx="-9.7" cy="5.6" r="3.3" fill="none" stroke="#19548f" stroke-width="1.6" stroke-dasharray="1.6 1"/><circle cx="-9.7" cy="5.6" r="2.4" fill="#19548f"/><path d="M-10.5 4.4 L-8.4 5.6 L-10.5 6.8 Z" fill="#fff"/><path d="M-5.2 1.6 L-3.4 4" stroke="#19548f" stroke-width="1.4"/><rect x="-2.1" y="0.8" width="15.8" height="6.6" fill="#fff"/><rect x="-2.1" y="0.8" width="2.9" height="6.6" fill="#19548f"/><rect x="11.7" y="0.8" width="2" height="6.6" fill="#19548f"/><path d="M-2.1 9.3 H13.7" stroke="#19548f" stroke-width="1.3"/><path d="M1.8 13.6 H9.6 M3.6 13.3 L4.4 11.8 H7.2 L8 13.3" stroke="#19548f" stroke-width="1" fill="none"/><circle cx="5.9" cy="-3.4" r="4.4" fill="#fff" stroke="#19548f" stroke-width="1"/><circle cx="5.9" cy="-3.2" r="2.9" fill="#19548f"/><path d="M3.6 -3 H8.2" stroke="#fff" stroke-width="0.9"/><path d="M4.2 -4.6 C5 -5.4 6.8 -5.4 7.6 -4.6" stroke="#fff" stroke-width="0.7" fill="none"/><path d="M10.3 -3.2 V1.6 C10.3 3.4 8.4 4 7 4" stroke="#19548f" stroke-width="0.9" fill="none"/><path d="M1.6 7.4 C1.6 3.4 3.6 1.8 5.9 1.8 C8.2 1.8 10.6 3.4 10.6 7.4 Z" fill="#19548f"/><path d="M4.4 1.9 L5.9 3.8 L7.4 1.9 Z" fill="#fff"/><rect x="9.3" y="-13.6" width="0.9" height="0.9" fill="#19548f"/><rect x="11" y="-13.6" width="0.9" height="0.9" fill="#19548f"/><rect x="11" y="-11.8" width="0.9" height="0.9" fill="#19548f"/><rect x="12.8" y="-11.8" width="0.9" height="0.9" fill="#19548f"/></svg>
<svg style="left:37px;top:297px" width="42" height="42" viewBox="-21.30 -21.00 42 42"><circle r="20.1" fill="#1b5694"/><circle r="19.3" fill="#fff"/><path d="M-2 -12.9 L7.7 -9.4 V-1 C7.7 5 3 8.8 -2 10.4 C-7 8.8 -11.4 5 -11.4 -1 V-9.4 Z" fill="#19548f"/><path d="M-8 -5 L3.6 5.6" stroke="#fff" stroke-width="2.6" stroke-linecap="round"/><path d="M-8 -5 L3.6 5.6" stroke="#19548f" stroke-width="0.9" stroke-linecap="round"/><circle cx="-7.2" cy="-5.6" r="2.1" fill="none" stroke="#fff" stroke-width="1.3"/><path d="M4.6 -4.6 L-6.6 5" stroke="#fff" stroke-width="2.4" stroke-linecap="round"/><rect x="-9.2" y="1" width="5.6" height="3.6" rx="0.6" transform="rotate(-41 -6.4 2.8)" fill="#19548f" stroke="#fff" stroke-width="1.2"/><circle cx="1" cy="-4.8" r="3.6" fill="none" stroke="#fff" stroke-width="1.3"/><circle cx="1" cy="-4.8" r="1.2" fill="#fff"/><path d="M7.4 0.2 L14.4 11.8 H0.6 Z" fill="#19548f" stroke="#fff" stroke-width="1.3" stroke-linejoin="round"/><path d="M7.4 4.2 V8.2" stroke="#fff" stroke-width="1.2"/><circle cx="7.4" cy="9.8" r="0.7" fill="#fff"/></svg>
<svg style="left:37px;top:362px" width="42" height="42" viewBox="-21.30 -20.70 42 42"><circle r="20.1" fill="#1b5694"/><circle r="19.3" fill="#fff"/><circle cx="-4.9" cy="-3.8" r="8.4" fill="#19548f"/><path d="M-13.4 -3.8 H3.6" stroke="#fff" stroke-width="1.2"/><path d="M-12.4 -7.5 H2.6 M-12.4 -0.1 H2.6" stroke="#fff" stroke-width="0.75"/><path d="M-10 -10.4 H0.2 M-10 2.8 H0.2" stroke="#fff" stroke-width="0.6"/><path d="M-4.9 -12.3 V4.7" stroke="#fff" stroke-width="0.8"/><path d="M-8.2 -11.6 C-9.8 -7 -9.8 -0.6 -8.2 4 M-1.6 -11.6 C0 -7 0 -0.6 -1.6 4" stroke="#fff" stroke-width="0.75" fill="none"/><path d="M-11.3 -9.4 C-12.5 -6 -12.5 -1.6 -11.3 1.8 M1.5 -9.4 C2.7 -6 2.7 -1.6 1.5 1.8" stroke="#fff" stroke-width="0.6" fill="none"/><path d="M5.8 -3.8 H10.4" stroke="#19548f" stroke-width="1.1" opacity="0.75"/><circle cx="11.2" cy="-3.8" r="1.75" fill="#19548f"/><path d="M-4.8 7.2 V11.6" stroke="#19548f" stroke-width="1"/><circle cx="-4.8" cy="12.5" r="1.7" fill="#19548f"/><path d="M3 3.6 L10.4 11" stroke="#19548f" stroke-width="1"/><circle cx="10.9" cy="11.7" r="1.8" fill="#19548f"/></svg>
<svg style="left:36px;top:426px" width="42" height="42" viewBox="-20.60 -21.20 42 42"><circle r="20.1" fill="#1b5694"/><circle r="19.3" fill="#fff"/><path d="M-12 -8.4 V6.8 C-12 7.6 -11.4 8.2 -10.6 8.2 H-4.6 M8.2 8.2 H9.4 C10.2 8.2 10.8 7.6 10.8 6.8 V-8.4" fill="none" stroke="#19548f" stroke-width="1"/><rect x="-12.4" y="-11.6" width="23.6" height="3.4" rx="0.7" fill="#19548f"/><circle cx="-10.2" cy="-9.9" r="0.6" fill="#fff"/><circle cx="-8" cy="-9.9" r="0.6" fill="#fff"/><circle cx="-5.8" cy="-9.9" r="0.6" fill="#fff"/><path d="M-3.6 -9.9 H9.4" stroke="#fff" stroke-width="0.5" opacity="0.6"/><path d="M-9.6 -5.7 H-1.2" stroke="#19548f" stroke-width="0.9"/><path d="M-9.6 -3.7 H-4.2 M-9.6 -1.7 H-5.8" stroke="#19548f" stroke-width="0.8" opacity="0.75"/><path d="M-9.4 2 H0" stroke="#19548f" stroke-width="1.7" stroke-linecap="round"/><circle cx="2.5" cy="2" r="6" fill="#fff"/><circle cx="2.5" cy="2" r="4.9" fill="none" stroke="#19548f" stroke-width="1.5"/><circle cx="2.5" cy="2" r="5.6" fill="none" stroke="#19548f" stroke-width="1.1" stroke-dasharray="2.2 2.2"/><path d="M-9.4 2 H1" stroke="#19548f" stroke-width="1.7" stroke-linecap="round"/><circle cx="2.5" cy="2" r="2.6" fill="#19548f"/><circle cx="2.8" cy="2" r="1" fill="#fff"/><path d="M-2.8 10.4 L-1.2 7.6 L0.4 10.4 M4.6 10.4 L6.2 7.6 L7.8 10.4" stroke="#19548f" stroke-width="1.5" fill="none"/></svg>
<svg style="left:36px;top:491px" width="42" height="42" viewBox="-20.60 -21.00 42 42"><circle r="20.1" fill="#1b5694"/><circle r="19.3" fill="#fff"/><rect x="-6.6" y="-7" width="13.4" height="14" rx="2.6" fill="#19548f"/><ellipse cx="0" cy="0.1" rx="4" ry="5.4" fill="none" stroke="#fff" stroke-width="0.9"/><rect x="-2.1" y="-0.6" width="4.2" height="3.8" rx="0.5" fill="#fff"/><path d="M-1.4 -0.6 V-1.8 C-1.4 -3.6 1.4 -3.6 1.4 -1.8 V-0.6" fill="none" stroke="#fff" stroke-width="0.9"/><rect x="-0.45" y="0.5" width="0.9" height="1.6" fill="#19548f"/><g fill="none" stroke="#19548f" stroke-width="1"><path d="M0 -8.4 V-12.4 M-2.6 -8.4 V-10.4 H-6.6 M2.6 -8.4 V-10.4 H6.6"/><path d="M0 8.6 V12.6 M-2.6 8.6 V10.6 H-6.6 M2.6 8.6 V10.6 H6.6"/><path d="M-8.4 0.2 H-12.4 M-8.2 -2.6 H-10.8 V-6.2 M-8.2 2.8 H-10.8 V6.4"/><path d="M8.6 0.2 H12.4 M8.4 -2.6 H11 V-6.2 M8.4 2.8 H11 V6.4"/></g><g fill="#19548f"><circle cx="0" cy="-12.6" r="1.2"/><circle cx="-7" cy="-10.5" r="1.2"/><circle cx="7" cy="-10.5" r="1.2"/><circle cx="0" cy="12.8" r="1.2"/><circle cx="-7" cy="10.7" r="1.2"/><circle cx="7" cy="10.7" r="1.2"/><circle cx="-12.6" cy="0.2" r="1.2"/><circle cx="-10.8" cy="-6.6" r="1.2"/><circle cx="-10.8" cy="6.8" r="1.2"/><circle cx="12.6" cy="0.2" r="1.2"/><circle cx="11" cy="-6.6" r="1.2"/><circle cx="11" cy="6.8" r="1.2"/></g></svg>
<svg style="left:36px;top:556px" width="42" height="42" viewBox="-20.60 -20.60 42 42"><circle r="20.1" fill="#1b5694"/><circle r="19.3" fill="#fff"/><path d="M-4.4 -7 C-9.6 -7 -13.4 -3 -13.4 2 C-13.4 4 -12.7 5.8 -11.6 7.2 L-12.9 9.8 L-9.4 9 C-7.9 9.9 -6.2 10.4 -4.4 10.4 C0.6 10.4 4.6 7 4.6 2 C4.6 -3 0.6 -7 -4.4 -7 Z" fill="#fff" stroke="#19548f" stroke-width="1.55" stroke-linejoin="round"/><path d="M3.9 -12.4 C-1.1 -12.4 -5 -8.6 -5 -3.8 C-5 1 -1.1 4.8 3.9 4.8 C5.6 4.8 7.2 4.4 8.6 3.6 L12.8 4.6 L11.4 1 C12.3 -0.4 12.8 -2 12.8 -3.8 C12.8 -8.6 8.9 -12.4 3.9 -12.4 Z" fill="#fff" stroke="#19548f" stroke-width="1.55" stroke-linejoin="round"/><path d="M0.4 -3.7 H7.2 M3.8 -7.2 V-0.2" stroke="#19548f" stroke-width="1.5" stroke-linecap="round"/></svg>
<svg style="left:36px;top:620px" width="42" height="42" viewBox="-20.60 -21.00 42 42"><circle r="20.1" fill="#1b5694"/><circle r="19.3" fill="#fff"/><rect x="-12.2" y="-2.4" width="23.4" height="15.2" fill="#19548f"/><path d="M-0.8 -10.8 L5.2 -3.5 H-6.8 Z" fill="#19548f"/><path d="M-9.6 -8 H-3.9 L-8.6 -3.5 H-11.8 Z M7.9 -8 H2.3 L7 -3.5 H10.2 Z" fill="#19548f"/><rect x="-9.7" y="-12.7" width="3.9" height="1.5" rx="0.6" fill="#19548f"/><rect x="-8.7" y="-10.6" width="1.9" height="1.3" fill="#19548f"/><rect x="3.9" y="-12.7" width="3.9" height="1.5" rx="0.6" fill="#19548f"/><rect x="4.9" y="-10.6" width="1.9" height="1.3" fill="#19548f"/><g fill="none" stroke="#fff" stroke-width="0.9"><ellipse cx="-7.6" cy="1.2" rx="2.6" ry="2.3"/><ellipse cx="-7.6" cy="1.2" rx="0.9" ry="0.6"/><path d="M-7.6 3.6 V8.4 M-9.2 5.2 H-6 M-9.2 6.9 H-6 M-9.8 12.6 V9.6 C-9.8 8.6 -5.4 8.6 -5.4 9.6 V12.6"/><circle cx="1.2" cy="0.4" r="1.7"/><path d="M-0.6 3 C-1.6 4.6 -1.6 6.8 0.2 8 H3.4 M0.6 3.2 L4 6.6 H6.4 M7 6.4 L9.8 2.4 M6 7.8 H10.8 M-2.6 6.2 V12.6 M-2.6 9.2 H3.4 V12.6 M6.6 8.2 V12.6 M8.4 8.2 V12.6 M10.2 8.2 V12.6"/></g></svg>
<svg style="left:36px;top:685px" width="42" height="42" viewBox="-20.60 -20.90 42 42"><circle r="20.1" fill="#1b5694"/><circle r="19.3" fill="#fff"/><path d="M-1.6 13.2 A14.1 14.1 0 1 1 12.8 -0.6" fill="none" stroke="#19548f" stroke-width="1.8"/><path d="M10.3 -0.7 H15.4 L12.85 2.2 Z" fill="#19548f"/><rect x="-8.7" y="-2.9" width="1.9" height="7.8" fill="#19548f"/><rect x="-8.7" y="2.7" width="1.9" height="0.7" fill="#fff"/><path d="M-4.9 4.8 V-3.6 L-1.7 -9.6 C-1.3 -10.2 -0.1 -9.8 -0.2 -8.8 L-0.7 -3.8 H2.6 C3.6 -3.8 3.6 -2.4 2.8 -2.2 C3.6 -2 3.5 -0.6 2.6 -0.4 C3.3 -0.1 3.1 1.2 2.3 1.4 C2.9 1.8 2.6 4.8 1.2 4.8 Z" fill="#19548f"/><circle cx="7.5" cy="9.3" r="5.6" fill="#19548f" stroke="#fff" stroke-width="0.8"/><path d="M4.8 9.4 L6.8 11.4 L10.4 7.4" fill="none" stroke="#fff" stroke-width="1.5"/></svg>
<svg style="left:36px;top:749px" width="42" height="42" viewBox="-20.90 -21.40 42 42"><circle r="20.1" fill="#1b5694"/><circle r="19.3" fill="#fff"/><rect x="-9.2" y="-12" width="20" height="13.6" rx="0.8" fill="#fff" stroke="#19548f" stroke-width="0.9"/><rect x="-7" y="-10" width="15.8" height="9.6" fill="#fff" stroke="#19548f" stroke-width="1.2"/><path d="M-8.6 -11.2 H10.2" stroke="#19548f" stroke-width="0.9" opacity="0.8"/><path d="M-5.2 -8 H7.2 M-5.2 -6 H7.2 M1.2 -3.9 H7.2 M1.2 -1.9 H7.2" stroke="#19548f" stroke-width="0.9"/><circle cx="-9.8" cy="-6.3" r="1.9" fill="#19548f" stroke="#fff" stroke-width="0.6"/><path d="M-13.6 4.6 V-2 C-13.6 -3 -12.8 -3.6 -12 -3.6 H-2 C-0.2 -3.6 -0.2 -1.9 -2 -1.9 H-7.2 V4.8 H-12 V4.6 Z" fill="#19548f" stroke="#fff" stroke-width="0.5"/><rect x="-13.6" y="-2.8" width="1.4" height="7.6" rx="0.7" fill="#19548f"/><rect x="-11.9" y="5.4" width="1.9" height="7.8" fill="#19548f"/><rect x="-9.2" y="5.4" width="1.9" height="7.8" fill="#19548f"/><circle cx="-1.5" cy="7.6" r="1.5" fill="#19548f"/><path d="M-4.1 13.2 C-4.1 11 -3 9.8 -1.5 9.8 C0 9.8 1.1 11 1.1 13.2 Z" fill="#19548f"/><circle cx="7.3" cy="7.6" r="1.5" fill="#19548f"/><path d="M4.7 13.2 C4.7 11 5.8 9.8 7.3 9.8 C8.8 9.8 9.9 11 9.9 13.2 Z" fill="#19548f"/></svg>
<svg style="left:34px;top:814px" width="42" height="42" viewBox="-20.80 -21.10 42 42"><circle r="20.1" fill="#1b5694"/><circle r="19.3" fill="#fff"/><circle r="13.6" fill="#24619f"/><path d="M-7.7 0.2 H7.7 M0 -7.6 V8" stroke="#fff" stroke-width="3.2" stroke-linecap="round"/></svg>
<svg style="left:34px;top:879px" width="42" height="42" viewBox="-20.90 -20.70 42 42"><circle r="20.1" fill="#1b5694"/><circle r="19.3" fill="#fff"/><circle r="13.2" fill="none" stroke="#19548f" stroke-width="2.3"/><path d="M3.6 -4.6 C3.2 -6.2 1.6 -7 -0.2 -7 C-2.6 -7 -4 -5.8 -4 -4 C-4 -2 -2.4 -1.4 -0.2 -0.8 C2.2 -0.2 4 0.6 4 2.8 C4 4.8 2.2 6 -0.2 6 C-2.4 6 -4 5 -4.4 3.4 M-0.2 -9.4 V9" fill="none" stroke="#19548f" stroke-width="2.2" stroke-linecap="round"/></svg>
</body></html>
